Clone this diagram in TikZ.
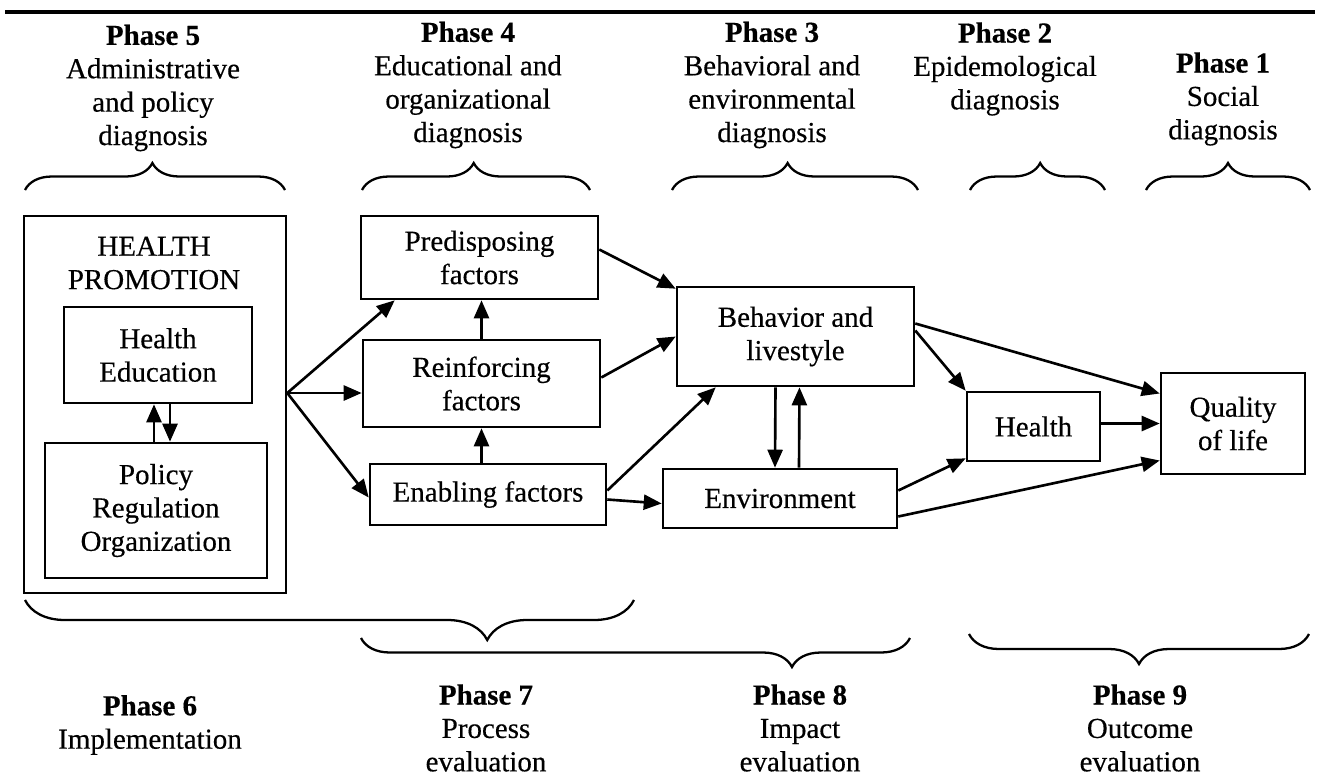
\documentclass[tikz,border=0pt]{standalone}
\usepackage{fontspec}
\setmainfont{Liberation Serif}[FakeBold=0.4]
\usetikzlibrary{arrows.meta,calc,decorations.pathreplacing}

\begin{document}
\begin{tikzpicture}[x=0.02cm,y=-0.02cm,
  every node/.style={font=\fontsize{16.5}{19}\selectfont},
  box/.style={draw,line width=1.5pt,inner sep=0pt,align=center},
  lbl/.style={inner sep=0pt,align=center},
  arr/.style={line width=1.5pt,-{Triangle[length=0.36cm,width=0.30cm]}},
  brc/.style={line width=1.3pt,decorate,decoration={brace,amplitude=#1}},
]
\useasboundingbox (0,0) rectangle (1319,779);

% rule across the top
\coordinate (ruleL) at (5,12);
\coordinate (ruleR) at (1315,12);
\draw[line width=2.2pt] (ruleL) -- (ruleR);

% diagnosis phases (top)
\node[lbl] (p5) at (153,88)  {\textbf{Phase 5}\\Administrative\\and policy\\diagnosis};
\node[lbl] (p4) at (468,85)  {\textbf{Phase 4}\\Educational and\\organizational\\diagnosis};
\node[lbl] (p3) at (772,85)  {\textbf{Phase 3}\\Behavioral and\\environmental\\diagnosis};
\node[lbl] (p2) at (1005,69) {\textbf{Phase 2}\\Epidemological\\diagnosis};
\node[lbl] (p1) at (1223,99) {\textbf{Phase 1}\\Social\\diagnosis};

% braces under the diagnosis phases
\draw[brc=0.54cm,decoration={aspect=0.49}] (25,190) -- (285,190);
\draw[brc=0.54cm,decoration={aspect=0.49}] (362,190) -- (590,190);
\draw[brc=0.54cm,decoration={aspect=0.47}] (672,190) -- (918,190);
\draw[brc=0.54cm,decoration={aspect=0.52}] (970,190) -- (1105,190);
\draw[brc=0.54cm,decoration={aspect=0.50}] (1146,190) -- (1310,190);

% health promotion block
\node[box,minimum width=5.24cm,minimum height=7.54cm] (hp) at (155,404.5) {};
\node[lbl] (hptxt) at (154,263) {HEALTH\\PROMOTION};
\node[box,minimum width=3.76cm,minimum height=1.92cm] (he) at (158,355) {Health\\Education};
\node[box,minimum width=4.44cm,minimum height=2.70cm] (pol) at (156,510.5) {Policy\\Regulation\\Organization};

% factors
\node[box,minimum width=4.74cm,minimum height=1.66cm] (pred) at (479.5,257.5) {Predisposing\\factors};
\node[box,minimum width=4.74cm,minimum height=1.74cm] (reinf) at (481.5,383.5) {Reinforcing\\factors};
\node[box,minimum width=4.72cm,minimum height=1.22cm] (enab) at (488,494.5) {Enabling factors};

% behaviour, environment, health, quality of life
\node[box,minimum width=4.74cm,minimum height=1.98cm] (behav) at (795.5,336.5) {Behavior and\\livestyle};
\node[box,minimum width=4.68cm,minimum height=1.18cm] (env) at (780,498.5) {Environment};
\node[box,minimum width=2.66cm,minimum height=1.38cm] (hlth) at (1033.5,426.5) {Health};
\node[box,minimum width=2.88cm,minimum height=2.02cm] (qol) at (1233,423.5) {Quality\\of life};

% arrows inside the health promotion block
\draw[arr] ($(pol.north)+(-2,0)$) -- ($(he.south)+(-4,0)$);
\draw[arr] ($(he.south)+(12,0)$) -- ($(pol.north)+(14,0)$);

% health promotion to the factors
\coordinate (hpout) at ($(hp.east)+(0,-11.5)$);
\draw[arr] (hpout) -- ($(pred.south west)+(35,0)$);
\draw[arr] (hpout) -- (reinf.west |- hpout);
\draw[arr] (hpout) -- ($(enab.west)+(0,3)$);

% between the factors
\draw[arr] (reinf.north) -- (reinf.north |- pred.south);
\draw[arr] (enab.north -| reinf.south) -- (reinf.south);

% factors to behaviour and environment
\draw[arr] ($(pred.east)+(0,-8)$) -- ($(behav.north west)+(0,3)$);
\draw[arr] ($(reinf.east)+(0,-6)$) -- (behav.west);
\draw[arr] ($(enab.east)+(0,-4)$) -- ($(behav.south west)+(40,0)$);
\draw[arr] ($(enab.east)+(0,5)$) -- ($(env.west)+(0,5)$);

% behaviour and environment
\draw[arr] ($(behav.south)+(-20,0)$) -- ($(env.north)+(-5,0)$);
\draw[arr] ($(env.north)+(19,0)$) -- ($(behav.south)+(4,0)$);

% towards health and quality of life
\draw[arr] ($(behav.east)+(0,-13)$) -- ($(qol.west)+(0,-30)$);
\draw[arr] ($(behav.east)+(0,-6)$) -- (hlth.north west);
\draw[arr] ($(hlth.east)+(0,-3)$) -- ($(qol.west)+(0,0)$);
\draw[arr] ($(env.east)+(0,-8)$) -- ($(hlth.south west)+(0,-4)$);
\draw[arr] ($(env.east)+(0,18)$) -- ($(qol.west)+(0,37)$);

% braces above the evaluation phases
\draw[brc=0.8cm,decoration={aspect=0.241}] (634,600) -- (25,600);
\draw[brc=0.58cm,decoration={aspect=0.215}] (910,638) -- (361,638);
\draw[brc=0.6cm,decoration={aspect=0.5}] (1309,634) -- (969,634);

% evaluation phases (bottom)
\node[lbl] (p6) at (150,725) {\textbf{Phase 6}\\Implementation};
\node[lbl] (p7) at (486,728) {\textbf{Phase 7}\\Process\\evaluation};
\node[lbl] (p8) at (800,728) {\textbf{Phase 8}\\Impact\\evaluation};
\node[lbl] (p9) at (1140,728) {\textbf{Phase 9}\\Outcome\\evaluation};
\end{tikzpicture}
\end{document}
